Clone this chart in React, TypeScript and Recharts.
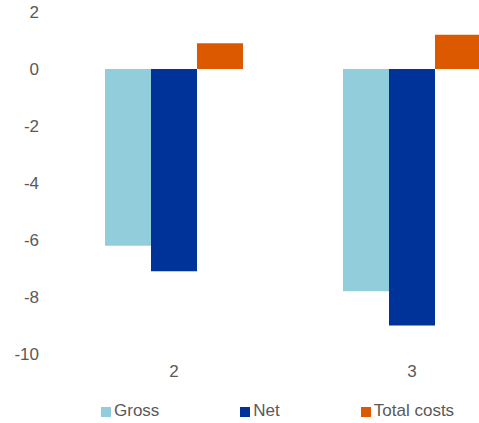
import React from 'react';
import { BarChart, Bar, XAxis, YAxis, Legend } from 'recharts';

const categories = ['2', '3'];
const gross = [-6.2, -7.8];
const net = [-7.1, -9.0];
const totalCosts = [0.9, 1.2];
const yTicks = [2, 0, -2, -4, -6, -8, -10];

const data = categories.map((c, i) => ({
  name: c,
  Gross: gross[i],
  Net: net[i],
  'Total costs': totalCosts[i],
}));

const FONT = '"Liberation Sans", Arial, sans-serif';
const TEXT = '#595959';

const renderLegend = (props: any) => {
  const { payload } = props;
  return (
    <div style={{ display: 'flex', alignItems: 'center', height: 20, fontFamily: FONT, fontSize: 17, color: TEXT, lineHeight: '20px', whiteSpace: 'nowrap' }}>
      {payload.map((entry: any, i: number) => (
        <div key={i} style={{ display: 'flex', alignItems: 'center', marginRight: i < payload.length - 1 ? 81 : 0 }}>
          <span style={{ display: 'inline-block', width: 10, height: 10, background: entry.color, marginRight: 3, marginTop: 1 }} />
          <span>{entry.value}</span>
        </div>
      ))}
    </div>
  );
};

export default function App() {
  return (
    <div style={{ position: 'absolute', left: 0, top: 0, width: 479, height: 423, overflow: 'hidden', background: '#fff' }}>
      <BarChart
        width={560}
        height={423}
        data={data}
        margin={{ top: 12, right: 29, bottom: 39, left: 0 }}
        barGap={0}
        barCategoryGap={50}
      >
        <XAxis
          dataKey="name"
          axisLine={false}
          tickLine={false}
          tickSize={0}
          tickMargin={11}
          height={30}
          tick={{ fill: TEXT, fontSize: 17, fontFamily: FONT }}
        />
        <YAxis
          domain={[-10, 2]}
          ticks={yTicks}
          interval={0}
          axisLine={false}
          tickLine={false}
          tickSize={0}
          tickMargin={16}
          width={55}
          tick={{ fill: TEXT, fontSize: 17, fontFamily: FONT }}
        />
        <Legend
          layout="horizontal"
          verticalAlign="middle"
          align="center"
          content={renderLegend}
          wrapperStyle={{ left: 101, top: 401, width: 'auto', bottom: 'auto' }}
        />
        <Bar dataKey="Gross" fill="#92CDDC" isAnimationActive={false} />
        <Bar dataKey="Net" fill="#00339A" isAnimationActive={false} />
        <Bar dataKey="Total costs" fill="#DD5900" isAnimationActive={false} />
      </BarChart>
    </div>
  );
}
